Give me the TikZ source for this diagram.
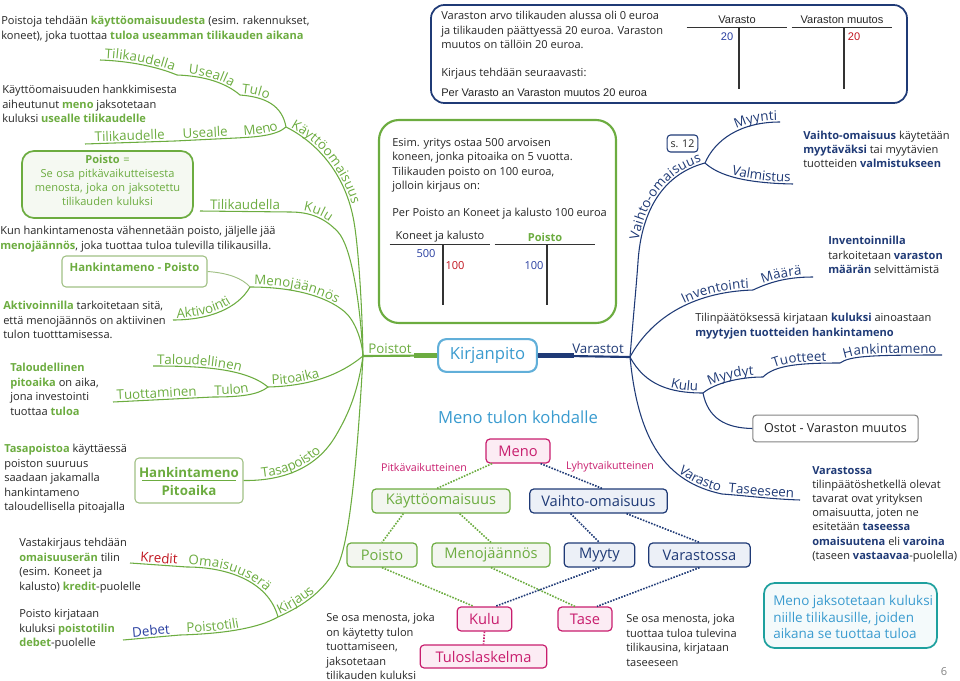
\documentclass[tikz,border=0pt]{standalone}
\usepackage{fontspec}
\setmainfont{Open Sans}
\newfontfamily\arialfont{Liberation Sans}
\usetikzlibrary{decorations.text,fit}

\definecolor{mmgreen}{RGB}{108,172,64}
\definecolor{mmpale}{RGB}{160,192,132}
\definecolor{mmblue}{RGB}{31,58,118}
\definecolor{mmsky}{RGB}{58,155,207}
\definecolor{mmpink}{RGB}{200,30,110}
\definecolor{mmred}{RGB}{192,20,30}
\definecolor{mmdebet}{RGB}{40,62,160}
\definecolor{mmteal}{RGB}{30,160,158}
\definecolor{mmtext}{RGB}{38,38,38}
\definecolor{mmgray}{RGB}{130,130,130}
\definecolor{mmgfill}{RGB}{243,246,240}
\definecolor{mmbfill}{RGB}{236,240,247}
\definecolor{mmpfill}{RGB}{252,236,244}
\definecolor{mmtfill}{RGB}{244,250,251}

\newcommand{\gb}[1]{{\bfseries\color{mmgreen}#1}}
\newcommand{\bb}[1]{{\bfseries\color{mmblue}#1}}
\newcommand{\brfont}{\fontsize{10}{12}\selectfont}
\newcommand{\notefont}{\fontsize{8.3}{10.9}\selectfont}

\tikzset{
  note/.style={anchor=north west, inner sep=0pt, align=left, text=mmtext, font=\notefont},
  gline/.style={draw=mmgreen, line width=0.8pt},
  bline/.style={draw=mmblue, line width=0.8pt},
  lab/.style n args={3}{postaction={decorate, decoration={text along path, text color=#1, text align={#2}, raise=1.5pt, text={|\brfont|#3}}}},
  mapbox/.style={line width=0.9pt, rounded corners=3pt, minimum height=18pt, inner sep=1pt, font=\fontsize{11}{13}\selectfont},
  pbox/.style={mapbox, draw=mmpink, fill=mmpfill, text=mmpink},
  gbox/.style={mapbox, draw=mmgreen, fill=mmgfill, text=mmgreen},
  bbox/.style={mapbox, draw=mmblue, fill=mmbfill, text=mmblue},
  gdot/.style={mmgreen, densely dotted, line width=1.2pt},
  bdot/.style={mmblue, densely dotted, line width=1.2pt},
  pdot/.style={mmpink, densely dotted, line width=1.2pt},
  thead/.style={minimum width=75pt, minimum height=10.5pt, inner sep=0pt, text=mmtext},
  tline/.style={draw=black!80, line width=0.9pt},
  tnum/.style={inner sep=0pt, font=\notefont},
  pale/.style={draw=mmpale, line width=0.8pt, rounded corners=3pt, inner sep=0pt, text=mmgreen},
}

\begin{document}
\begin{tikzpicture}[x=0.75pt, y=-0.75pt]
\useasboundingbox (0,0) rectangle (960,681);

% boxes of the examples
\node[fit={(431,5) (907,103)}, inner sep=0pt, draw=mmblue, line width=1.3pt, rounded corners=10pt] (varBox) {};
\node[fit={(379,120) (616,323)}, inner sep=0pt, draw=mmgreen, line width=1.6pt, rounded corners=15pt] (esimBox) {};

% centre
\coordinate (gRoot) at (363,356);
\coordinate (bRoot) at (630,357);
\node[draw=mmsky!80, line width=1.6pt, rounded corners=6pt, fill=white, text=mmsky, font=\fontsize{12.5}{14}\selectfont, minimum width=74pt, minimum height=24.5pt] (kirj) at (487.5,355.5) {Kirjanpito};
\draw[mmgreen, line width=1.6pt] (gRoot) -- (kirj.west);
\draw[mmgreen, line width=3.4pt] ([xshift=-17pt]kirj.west) -- (kirj.west);
\draw[mmblue, line width=1.6pt] (kirj.east) -- (bRoot);
\draw[mmblue, line width=3.4pt] (kirj.east) -- ([xshift=27pt]kirj.east);
\node[text=mmgreen, font=\brfont] (lPoistot) at (390,349) {Poistot};
\node[text=mmblue, font=\brfont] (lVarastot) at (598,349) {Varastot};

% green tree: Poistot
\coordinate (gKayt) at (286,127);
\coordinate (gKayt2) at (354,222);
\draw[gline, lab={mmgreen}{left, left indent=3pt}{Käyttöomaisuus}] (gKayt) .. controls (318,143) and (346,175) .. (gKayt2);
\draw[gline] (gKayt2) .. controls (358,245) and (362,300) .. (gRoot);
\coordinate (gTulo) at (240,95);
\coordinate (gUsealla) at (177,75);
\coordinate (gTilik1) at (100,60);
\draw[gline, lab={mmgreen}{left, left indent=1pt}{Tulo}] (gTulo) .. controls (265,97) and (282,105) .. (gKayt);
\draw[gline, lab={mmgreen}{center}{Usealla}] (gUsealla) .. controls (205,76) and (226,83) .. (gTulo);
\draw[gline, lab={mmgreen}{center}{Tilikaudella}] (gTilik1) .. controls (130,61) and (158,67) .. (gUsealla);
\coordinate (gMeno) at (236,138);
\coordinate (gUsealle) at (175,141);
\coordinate (gTilik2) at (85,144);
\draw[gline, lab={mmgreen}{center}{Meno}] (gMeno) .. controls (255,137) and (276,136) .. (gKayt);
\draw[gline, lab={mmgreen}{center}{Usealle}] (gUsealle) -- (gMeno);
\draw[gline, lab={mmgreen}{center}{Tilikaudelle}] (gTilik2) -- (gUsealle);

\coordinate (gKulu) at (290,212);
\coordinate (gKulu2) at (338,232);
\coordinate (gTilik3) at (200,211);
\draw[gline, lab={mmgreen}{center}{Tilikaudella}] (gTilik3) -- (gKulu);
\draw[gline, lab={mmgreen}{center}{Kulu}] (gKulu) .. controls (310,212) and (325,218) .. (gKulu2);
\draw[gline] (gKulu2) .. controls (351,246) and (360,300) .. (gRoot);

\node[pale, fit={(62,256) (207,287)}, font=\fontsize{8.5}{10}\selectfont\bfseries] (hp) {Hankintameno - Poisto};
\coordinate (gMenoj) at (250,287);
\coordinate (gMenoj2) at (345,312);
\coordinate (gAktiv) at (173,320);
\draw[gline, lab={mmgreen}{left, left indent=3pt}{Menojäännös}] (gMenoj) .. controls (290,287) and (325,295) .. (gMenoj2);
\draw[gline] (gMenoj2) .. controls (355,321) and (362,340) .. (gRoot);
\draw[draw=mmpale, line width=0.7pt] (hp.east) .. controls (228,273) and (242,278) .. (gMenoj);
\draw[gline, lab={mmgreen}{left, left indent=3pt}{Aktivointi}] (gAktiv) .. controls (210,320) and (238,308) .. (gMenoj);

\coordinate (gPito) at (268,387);
\coordinate (gTalo) at (153,366);
\coordinate (gTulon) at (213,397);
\coordinate (gTuott) at (113,402);
\draw[gline, lab={mmgreen}{left, left indent=3pt}{Pitoaika}] (gPito) .. controls (310,386) and (340,375) .. (gRoot);
\draw[gline, lab={mmgreen}{left, left indent=3pt}{Taloudellinen}] (gTalo) .. controls (200,366) and (245,368) .. (gPito);
\draw[gline, lab={mmgreen}{left, left indent=1pt}{Tulon}] (gTulon) .. controls (240,397) and (258,395) .. (gPito);
\draw[gline, lab={mmgreen}{left, left indent=3pt}{Tuottaminen}] (gTuott) -- (gTulon);

\node[pale, fit={(135,458) (243,503)}] (hpa) {};
\node[text=mmgreen, font=\fontsize{10}{10}\selectfont\bfseries] (hpaTop) at (189,472) {Hankintameno};
\node[text=mmgreen, font=\fontsize{10}{10}\selectfont\bfseries] (hpaBot) at (189,490) {Pitoaika};
\draw[mmgreen, line width=0.7pt] ([xshift=5.5pt]hpa.west) -- ([xshift=-5.5pt]hpa.east);
\coordinate (gTasa) at (335,437);
\draw[gline, lab={mmgreen}{left, left indent=14pt}{Tasapoisto}] (hpa.east) .. controls (280,481) and (315,470) .. (gTasa);
\draw[gline] (gTasa) .. controls (350,412) and (358,390) .. (gRoot);

\coordinate (gKirj) at (278,617);
\coordinate (gKirj2) at (338,565);
\coordinate (gOmai) at (187,567);
\coordinate (gKredit) at (130,563);
\coordinate (gPtili) at (180,635);
\coordinate (gDebet) at (123,640);
\draw[gline, lab={mmgreen}{left, left indent=2pt}{Kirjaus}] (gKirj) .. controls (305,605) and (325,590) .. (gKirj2);
\draw[gline] (gKirj2) .. controls (350,540) and (358,450) .. (gRoot);
\draw[gline, lab={mmgreen}{left, left indent=1pt}{Omaisuuserä}] (gOmai) .. controls (225,567) and (268,580) .. (gKirj);
\draw[gline, lab={mmred}{center}{Kredit}] (gKredit) -- (gOmai);
\draw[gline, lab={mmgreen}{left, left indent=5pt}{Poistotili}] (gPtili) .. controls (215,634) and (255,630) .. (gKirj);
\draw[gline, lab={mmdebet}{center}{Debet}] (gDebet) -- (gPtili);

% blue tree: Varastot
\coordinate (bVaihto) at (705,163);
\coordinate (bVaihto2) at (638,262);
\coordinate (bMyynti) at (780,122);
\coordinate (bValm) at (793,184);
\draw[bline] (bRoot) .. controls (633,320) and (636,290) .. (bVaihto2);
\draw[bline, lab={mmblue}{right, right indent=2pt}{Vaihto-omaisuus}] (bVaihto2) .. controls (641,215) and (660,175) .. (bVaihto);
\draw[bline, lab={mmblue}{right, right indent=2pt}{Myynti}] (bVaihto) .. controls (715,140) and (740,122) .. (bMyynti);
\draw[bline, lab={mmblue}{right, right indent=2pt}{Valmistus}] (bVaihto) .. controls (715,172) and (735,183) .. (bValm);
\node[draw=mmblue, rounded corners=2.5pt, line width=0.8pt, minimum width=23pt, minimum height=12.75pt, inner sep=1pt, text=mmtext, font=\fontsize{8}{10}\selectfont] (s12) at (682.5,143.5) {s. 12};

\coordinate (bInv) at (753,290);
\coordinate (bMaara) at (813,277);
\draw[bline, lab={mmblue}{right, right indent=3pt}{Inventointi}] (bRoot) .. controls (650,320) and (690,292) .. (bInv);
\draw[bline, lab={mmblue}{center}{Määrä}] (bInv) .. controls (768,283) and (785,277) .. (bMaara);

\coordinate (bKulu) at (703,393);
\coordinate (bMyydyt) at (763,377);
\coordinate (bTuott) at (840,363);
\coordinate (bHank) at (942,355);
\node[draw=mmgray, rounded corners=2.5pt, line width=0.8pt, minimum width=124pt, minimum height=20pt, text=mmtext, font=\fontsize{9.4}{12}\selectfont] (ostot) at (835.5,428.5) {Ostot - Varaston muutos};
\draw[bline, lab={mmblue}{right, right indent=4pt}{Kulu}] (bRoot) .. controls (645,385) and (670,393) .. (bKulu);
\draw[bline, lab={mmblue}{center}{Myydyt}] (bKulu) .. controls (715,383) and (740,377) .. (bMyydyt);
\draw[bline, lab={mmblue}{center}{Tuotteet}] (bMyydyt) .. controls (775,365) and (800,363) .. (bTuott);
\draw[bline, lab={mmblue}{center}{Hankintameno}] (bTuott) .. controls (850,356) and (870,355) .. (bHank);
\draw[bline] (bKulu) .. controls (708,418) and (725,428) .. (ostot.west);

\coordinate (bVar) at (722,494);
\coordinate (bTase) at (800,500);
\draw[bline, lab={mmblue}{right, right indent=2pt}{Varasto}] (bRoot) .. controls (638,440) and (665,482) .. (bVar);
\draw[bline, lab={mmblue}{center}{Taseeseen}] (bVar) .. controls (750,496) and (770,499) .. (bTase);

% left notes
\node[note] (nPoistoja) at (1,16) {Poistoja tehdään \gb{käyttöomaisuudesta} (esim. rakennukset,\\koneet), joka tuottaa \gb{tuloa useamman tilikauden aikana}};
\node[note] (nHankk) at (2,85) {Käyttöomaisuuden hankkimisesta\\aiheutunut \gb{meno} jaksotetaan\\kuluksi \gb{usealle tilikaudelle}};
\node[fit={(22,151) (193,218)}, inner sep=0pt, draw=mmgreen, line width=1.3pt, rounded corners=9pt, fill=mmgreen!7, text=mmgreen, align=center, font=\fontsize{8.3}{10.5}\selectfont] (defPoisto) {\textbf{Poisto} =\\Se osa pitkävaikutteisesta\\menosta, joka on jaksotettu\\tilikauden kuluksi};
\node[note] (nKun) at (0,226) {Kun hankintamenosta vähennetään poisto, jäljelle jää\\\gb{menojäännös}, joka tuottaa tuloa tulevilla tilikausilla.};
\node[note] (nAktiv) at (3,301) {\gb{Aktivoinnilla} tarkoitetaan sitä,\\että menojäännös on aktiivinen\\tulon tuotttamisessa.};
\node[note] (nTalo) at (10,363) {\gb{Taloudellinen}\\\gb{pitoaika} on aika,\\jona investointi\\tuottaa \gb{tuloa}};
\node[note] (nTasa) at (4,444) {\gb{Tasapoistoa} käyttäessä\\poiston suuruus\\saadaan jakamalla\\hankintameno\\taloudellisella pitoajalla};
\node[note] (nVasta) at (19,538) {Vastakirjaus tehdään\\\gb{omaisuuserän} tilin\\(esim. Koneet ja\\kalusto) \gb{kredit}-puolelle};
\node[note] (nPkirj) at (19,609) {Poisto kirjataan\\kuluksi \gb{poistotilin}\\\gb{debet}-puolelle};

% Varasto example
\node[note] (nVarArvo) at (441,11) {Varaston arvo tilikauden alussa oli 0 euroa\\ja tilikauden päättyessä 20 euroa. Varaston\\muutos on tällöin 20 euroa.};
\node[note] (nKirjTeht) at (441,68) {Kirjaus tehdään seuraavasti:};
\node[note, font=\arialfont\fontsize{8.3}{10.9}\selectfont] (nPer) at (441,89) {Per Varasto an Varaston muutos 20 euroa};
\node[thead, font=\arialfont\fontsize{8.3}{10}\selectfont] (hVarasto) at (737,20) {Varasto};
\draw[tline] (hVarasto.south west) -- (hVarasto.south east);
\draw[tline] ([xshift=1.5pt]hVarasto.south) -- ++(0,62);
\node[thead, font=\arialfont\fontsize{8.3}{10}\selectfont] (hMuutos) at (842,20) {Varaston muutos};
\draw[tline] (hMuutos.south west) -- (hMuutos.south east);
\draw[tline] ([xshift=1.5pt]hMuutos.south) -- ++(0,62);
\node[tnum, text=mmdebet, font=\arialfont\fontsize{8.3}{10}\selectfont] (vVar) at (727,37) {20};
\node[tnum, text=mmred, font=\arialfont\fontsize{8.3}{10}\selectfont] (vMuutos) at (854,37) {20};

% Poisto example
\node[note] (nEsim) at (392,138) {Esim. yritys ostaa 500 arvoisen\\koneen, jonka pitoaika on 5 vuotta.\\Tilikauden poisto on 100 euroa,\\jolloin kirjaus on:};
\node[note] (nPerPoisto) at (392,208) {Per Poisto an Koneet ja kalusto 100 euroa};
\node[thead, font=\notefont] (hKoneet) at (440,237) {Koneet ja kalusto};
\draw[tline] (hKoneet.south west) -- (hKoneet.south east);
\draw[tline] ([xshift=2.25pt]hKoneet.south) -- ++(0,61);
\node[thead, text=mmgreen, font=\notefont\bfseries] (hPoisto) at (545,237) {Poisto};
\draw[tline] (hPoisto.south west) -- (hPoisto.south east);
\draw[tline] ([xshift=1.5pt]hPoisto.south) -- ++(0,61);
\node[tnum, text=mmdebet] (vKon500) at (426,254) {500};
\node[tnum, text=mmred] (vKon100) at (455,266) {100};
\node[tnum, text=mmdebet] (vPoi100) at (534,266) {100};

% Meno tulon kohdalle
\node[text=mmsky, font=\fontsize{12.5}{14}\selectfont] (title) at (518,417) {Meno tulon kohdalle};
\node[pbox, minimum width=48pt] (meno) at (518,451) {Meno};
\node[text=mmpink, font=\fontsize{8}{10}\selectfont] (lPitka) at (424,467) {Pitkävaikutteinen};
\node[text=mmpink, font=\fontsize{8}{10}\selectfont] (lLyhyt) at (610,467) {Lyhytvaikutteinen};
\node[gbox, minimum width=103.5pt] (kayt) at (441,501) {Käyttöomaisuus};
\node[bbox, minimum width=103pt] (vaihto) at (598.5,501) {Vaihto-omaisuus};
\node[gbox, minimum width=52.5pt] (poisto) at (382,555) {Poisto};
\node[gbox, minimum width=88.5pt] (menoj) at (491,555) {Menojäännös};
\node[bbox, minimum width=53pt] (myyty) at (599.5,555) {Myyty};
\node[bbox, minimum width=76pt] (varastossa) at (699.5,555) {Varastossa};
\node[pbox, minimum width=41pt] (kulu) at (484.5,619) {Kulu};
\node[pbox, minimum width=40.5pt] (tase) at (585,619) {Tase};
\node[pbox, minimum width=95pt, minimum height=17.25pt] (tulos) at (483.5,656.5) {Tuloslaskelma};
\draw[gdot] ([xshift=5pt]meno.south west) -- ([xshift=-3pt]kayt.north);
\draw[bdot] ([xshift=-7.5pt]meno.south east) -- ([xshift=2.6pt]vaihto.north);
\draw[gdot] ([xshift=24pt]kayt.south west) -- (poisto.north);
\draw[gdot] ([xshift=14pt]kayt.south) -- (menoj.north);
\draw[bdot] ([xshift=-21pt]vaihto.south) -- (myyty.north);
\draw[bdot] ([xshift=21pt]vaihto.south) -- (varastossa.north);
\draw[gdot] (poisto.south) -- ([xshift=-8pt]kulu.north);
\draw[gdot] (menoj.south) -- ([xshift=-7.5pt]tase.north);
\draw[bdot] (myyty.south) -- ([xshift=8pt]kulu.north);
\draw[bdot] (varastossa.south) -- ([xshift=9pt]tase.north);
\draw[pdot] (kulu.south) -- (tulos.north);
\node[note] (nSeOsa1) at (326,613) {Se osa menosta, joka\\on käytetty tulon\\tuottamiseen,\\jaksotetaan\\tilikauden kuluksi};
\node[note] (nSeOsa2) at (626,614) {Se osa menosta, joka\\tuottaa tuloa tulevina\\tilikausina, kirjataan\\taseeseen};

% right notes
\node[note, font=\fontsize{8.3}{10.3}\selectfont] (nVaihtoK) at (803,131) {\bb{Vaihto-omaisuus} käytetään\\\bb{myytäväksi} tai myytävien\\tuotteiden \bb{valmistukseen}};
\node[note] (nInvent) at (828,236) {\bb{Inventoinnilla}\\tarkoitetaan \bb{varaston}\\\bb{määrän} selvittämistä};
\node[note] (nTilinp) at (695,313) {Tilinpäätöksessä kirjataan \bb{kuluksi} ainoastaan\\\bb{myytyjen tuotteiden hankintameno}};
\node[note, font=\fontsize{8.3}{10.65}\selectfont] (nVarastossa) at (812,466) {\bb{Varastossa}\\tilinpäätöshetkellä olevat\\tavarat ovat yrityksen\\omaisuutta, joten ne\\esitetään \bb{taseessa}\\\bb{omaisuutena} eli \bb{varoina}\\(taseen \bb{vastaavaa}-puolella)};
\node[fit={(764,583) (937,648)}, inner sep=0pt, draw=mmteal, line width=1.3pt, rounded corners=8pt, fill=mmtfill] (tealBox) {};
\node[note, text=mmsky, font=\fontsize{10.1}{12.4}\selectfont] (nMenoJaks) at (773,595) {Meno jaksotetaan kuluksi\\niille tilikausille, joiden\\aikana se tuottaa tuloa};
\node[text=mmgray, font=\fontsize{8.3}{10}\selectfont] (page) at (944,672) {6};
\end{tikzpicture}
\end{document}
